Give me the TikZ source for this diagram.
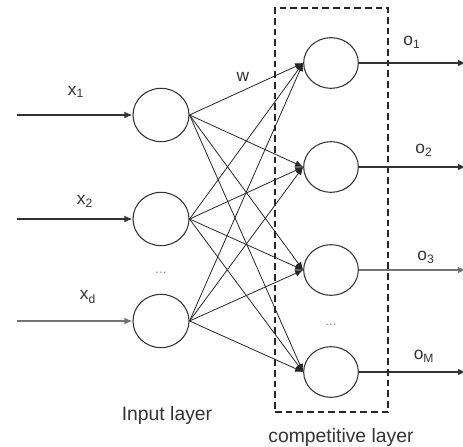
\documentclass[tikz,border=0pt]{standalone}
\usepackage{fontspec}
\setmainfont{Liberation Sans}
\usetikzlibrary{arrows.meta,shapes.geometric}
\begin{document}
\begin{tikzpicture}[x=0.75pt,y=-0.75pt,
  neuron/.style={draw=black!80,line width=0.8pt,ellipse,inner sep=0pt,minimum width=42pt,minimum height=40pt},
  cneuron/.style={draw=black!80,line width=0.8pt,ellipse,inner sep=0pt,minimum width=41pt,minimum height=38pt},
  wire/.style={draw=black!85,line width=0.6pt,-{Latex[length=6pt,width=5pt]}},
  iowire/.style={draw=black!80,line width=1pt,-{Latex[length=6pt,width=5pt]}},
  lbl/.style={font=\fontsize{13}{15}\selectfont,text=black!80},
  title/.style={font=\fontsize{14.5}{17}\selectfont,text=black!80},
  dotsl/.style={font=\fontsize{10}{12}\selectfont,text=black!45}]
\useasboundingbox (0,0) rectangle (463,446);
% dashed box
\node[draw=black!85,dashed,line width=1pt,dash pattern=on 5pt off 3pt,minimum width=84.75pt,minimum height=303pt,inner sep=0pt] (box) at (331.5,210) {};
% input neurons
\node[neuron] (i1) at (161,115) {};
\node[neuron] (i2) at (161,219) {};
\node[neuron] (i3) at (161,321) {};
% competitive neurons
\node[cneuron] (c1) at (331,63) {};
\node[cneuron] (c2) at (331,167) {};
\node[cneuron] (c3) at (331,270) {};
\node[cneuron] (c4) at (331,372) {};
% input arrows
\coordinate (s1) at (17,115);
\coordinate (s2) at (17,219);
\coordinate (s3) at (17,321);
\draw[iowire] (s1) -- (i1.west);
\draw[iowire] (s2) -- (i2.west);
\draw[iowire,draw=black!55] (s3) -- (i3.west);
% connections
\foreach \a in {i1,i2,i3}{
  \foreach \b in {c1,c2,c3,c4}{
    \draw[wire] (\a.east) -- (\b.west);
  }
}
% outputs
\coordinate (e1) at (466,63);
\coordinate (e2) at (466,167);
\coordinate (e3) at (466,270);
\coordinate (e4) at (466,372);
\draw[iowire] (c1.east) -- (e1);
\draw[iowire] (c2.east) -- (e2);
\draw[iowire,draw=black!55] (c3.east) -- (e3);
\draw[iowire] (c4.east) -- (e4);
% labels
\node[lbl] (lx1) at (76,92) {x\textsubscript{1}};
\node[lbl] (lx2) at (85,201) {x\textsubscript{2}};
\node[lbl] (lxd) at (88,297) {x\textsubscript{d}};
\node[lbl] (lw) at (243,77) {w};
\node[lbl] (lo1) at (412,42) {o\textsubscript{1}};
\node[lbl] (lo2) at (424,150) {o\textsubscript{2}};
\node[lbl] (lo3) at (426,257) {o\textsubscript{3}};
\node[lbl] (lo4) at (424,356) {o\textsubscript{M}};
\node[dotsl] (d1) at (161,273) {...};
\node[dotsl] (d2) at (331,325) {...};
\node[title] (t1) at (167,415) {Input layer};
\node[title] (t2) at (341,437) {competitive layer};
\end{tikzpicture}
\end{document}
